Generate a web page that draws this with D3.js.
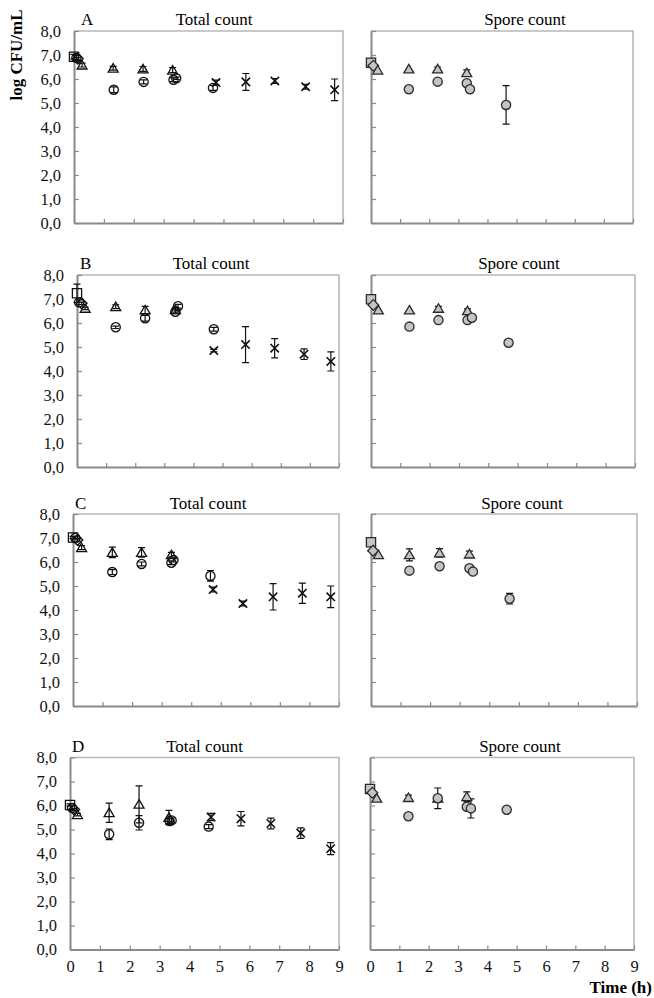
<!DOCTYPE html>
<html>
<head>
<meta charset="utf-8">
<script src="https://cdn.jsdelivr.net/npm/d3@7"></script>
<style>
  body { margin: 0; background: #fff; }
  svg { display: block; font-family: "Liberation Serif", "Times New Roman", serif; }
  .domain { stroke: #8a8a8a; stroke-width: 2; }
  .tick line { stroke: #8a8a8a; stroke-width: 1.2; }
  .tick text { fill: #111; }
</style>
</head>
<body>
<svg width="654" height="998"></svg>
<script>
// rows and panel titles
const rowLetters = ["A", "B", "C", "D"];
const panelTitles = ["Total count", "Spore count"];
const xTicks = [0, 1, 2, 3, 4, 5, 6, 7, 8, 9];
const yTicks = [0, 1, 2, 3, 4, 5, 6, 7, 8];

// [marker, time (h), log CFU/mL, error]
const totalA = [
  ["square", 0, 6.93, 0.1], ["circle", 0.08, 6.88, 0.1], ["diamond", 0.13, 6.85, 0.05],
  ["triangle", 0.27, 6.58, 0.08], ["triangle", 1.31, 6.45, 0.08], ["circle", 1.33, 5.55, 0.12],
  ["triangle", 2.31, 6.42, 0.1], ["circle", 2.33, 5.88, 0.08], ["triangle", 3.3, 6.37, 0.1],
  ["circle", 3.33, 5.97, 0.08], ["circle", 3.42, 6.03, 0.05], ["circle", 4.65, 5.63, 0.1],
  ["cross", 4.75, 5.85, 0.1], ["cross", 5.75, 5.88, 0.35], ["cross", 6.72, 5.92, 0.1],
  ["cross", 7.75, 5.68, 0.1], ["cross", 8.72, 5.55, 0.45]
];
const sporeA = [
  ["square", 0, 6.68, 0], ["diamond", 0.08, 6.55, 0], ["triangle", 0.23, 6.37, 0],
  ["triangle", 1.3, 6.42, 0], ["circle", 1.3, 5.57, 0], ["triangle", 2.29, 6.42, 0.08],
  ["circle", 2.29, 5.89, 0], ["triangle", 3.29, 6.26, 0.12], ["circle", 3.29, 5.82, 0],
  ["circle", 3.4, 5.57, 0], ["circle", 4.64, 4.92, 0.8]
];
const totalB = [
  ["square", 0, 7.24, 0.38], ["circle", 0.07, 6.86, 0.1], ["diamond", 0.16, 6.82, 0.05],
  ["triangle", 0.28, 6.61, 0.05], ["triangle", 1.33, 6.68, 0.08], ["circle", 1.33, 5.82, 0.05],
  ["triangle", 2.34, 6.54, 0.15], ["circle", 2.34, 6.2, 0.12], ["triangle", 3.38, 6.55, 0.1],
  ["circle", 3.38, 6.47, 0.08], ["circle", 3.47, 6.7, 0.08], ["circle", 4.7, 5.74, 0.08],
  ["cross", 4.7, 4.85, 0.05], ["cross", 5.79, 5.1, 0.75], ["cross", 6.79, 4.95, 0.4],
  ["cross", 7.8, 4.7, 0.22], ["cross", 8.72, 4.4, 0.4]
];
const sporeB = [
  ["square", 0, 6.99, 0], ["diamond", 0.08, 6.75, 0], ["triangle", 0.25, 6.54, 0],
  ["triangle", 1.31, 6.54, 0], ["circle", 1.31, 5.85, 0], ["triangle", 2.3, 6.61, 0.08],
  ["circle", 2.3, 6.12, 0.12], ["triangle", 3.29, 6.51, 0.08], ["circle", 3.29, 6.12, 0.12],
  ["circle", 3.44, 6.22, 0], ["circle", 4.69, 5.18, 0]
];
const totalC = [
  ["square", 0, 7.02, 0.05], ["circle", 0.08, 7.0, 0.05], ["diamond", 0.15, 6.92, 0.05],
  ["triangle", 0.29, 6.6, 0.08], ["triangle", 1.33, 6.4, 0.22], ["circle", 1.33, 5.58, 0.1],
  ["triangle", 2.32, 6.4, 0.2], ["circle", 2.32, 5.92, 0.08], ["triangle", 3.33, 6.3, 0.1],
  ["circle", 3.33, 5.97, 0.08], ["circle", 3.4, 6.08, 0.08], ["circle", 4.65, 5.42, 0.22],
  ["cross", 4.74, 4.85, 0.1], ["cross", 5.75, 4.27, 0.1], ["cross", 6.77, 4.55, 0.55],
  ["cross", 7.76, 4.7, 0.42], ["cross", 8.72, 4.55, 0.45]
];
const sporeC = [
  ["square", 0, 6.82, 0], ["diamond", 0.07, 6.47, 0], ["triangle", 0.25, 6.3, 0],
  ["triangle", 1.3, 6.3, 0.25], ["circle", 1.3, 5.64, 0], ["triangle", 2.32, 6.38, 0.18],
  ["circle", 2.32, 5.82, 0], ["triangle", 3.33, 6.33, 0.12], ["circle", 3.33, 5.74, 0],
  ["circle", 3.45, 5.6, 0], ["circle", 4.69, 4.47, 0.22]
];
const totalD = [
  ["square", 0, 6.02, 0.05], ["circle", 0.07, 5.9, 0.1], ["diamond", 0.14, 5.83, 0.05],
  ["triangle", 0.25, 5.62, 0.05], ["triangle", 1.31, 5.7, 0.4], ["circle", 1.31, 4.8, 0.22],
  ["triangle", 2.31, 6.05, 0.77], ["circle", 2.31, 5.28, 0.3], ["triangle", 3.31, 5.5, 0.3],
  ["circle", 3.33, 5.35, 0.1], ["circle", 3.4, 5.38, 0.1], ["circle", 4.64, 5.12, 0.08],
  ["cross", 4.72, 5.52, 0.15], ["cross", 5.72, 5.45, 0.3], ["cross", 6.72, 5.25, 0.22],
  ["cross", 7.72, 4.85, 0.22], ["cross", 8.72, 4.2, 0.25]
];
const sporeD = [
  ["square", 0, 6.69, 0], ["diamond", 0.08, 6.53, 0], ["triangle", 0.23, 6.3, 0],
  ["triangle", 1.31, 6.33, 0.1], ["circle", 1.31, 5.55, 0], ["triangle", 2.31, 6.3, 0],
  ["circle", 2.31, 6.3, 0.43], ["triangle", 3.3, 6.37, 0.2], ["circle", 3.3, 5.95, 0],
  ["circle", 3.44, 5.88, 0.4], ["circle", 4.66, 5.82, 0]
];

const totals = [totalA, totalB, totalC, totalD];
const spores = [sporeA, sporeB, sporeC, sporeD];

// layout of each row (the figure is stacked from four separate plots)
const layout = [
  { top: 31, bottom: 223, left: [74, 343], right: [371, 633], titleY: 25, letterX: 81, totalX: 214, sporeX: 525 },
  { top: 275, bottom: 467, left: [77, 339], right: [371, 635], titleY: 269, letterX: 80, totalX: 211, sporeX: 519 },
  { top: 514, bottom: 706, left: [73, 339], right: [371, 637], titleY: 509, letterX: 75, totalX: 208, sporeX: 522 },
  { top: 757.5, bottom: 949.5, left: [70, 339], right: [370, 634], titleY: 752, letterX: 72, totalX: 204.5, sporeX: 520 }
];

const serif = '"Liberation Serif", "Times New Roman", serif';
const svg = d3.select("svg");
const fmt = (d) => d3.format(".1f")(d).replace(".", ",");

// marker shapes around the point
function shape(type) {
  const r = 4.6;
  if (type === "square") return `M${-r},${-r}H${r}V${r}H${-r}Z`;
  if (type === "diamond") return `M0,${-r - 0.8}L${r + 0.8},0L0,${r + 0.8}L${-r - 0.8},0Z`;
  if (type === "triangle") return `M0,${-r}L${r + 0.4},${r * 0.85}L${-r - 0.4},${r * 0.85}Z`;
  if (type === "circle") return d3.arc()({ innerRadius: 0, outerRadius: r, startAngle: 0, endAngle: 2 * Math.PI });
  return `M${-r + 0.4},${-r + 0.4}L${r - 0.4},${r - 0.4}M${r - 0.4},${-r + 0.4}L${-r + 0.4},${r - 0.4}`;
}

function drawPanel(geo, range, data, spore, showXLabels, showYLabels) {
  const x = d3.scaleLinear().domain([0, 9]).range(range);
  const y = d3.scaleLinear().domain([0, 8]).range([geo.bottom, geo.top]);
  const g = svg.append("g");

  // light frame on top and right
  g.append("path")
    .attr("d", `M${x(0)},${y(8)}H${x(9)}V${y(0)}`)
    .attr("fill", "none")
    .attr("stroke", "#b8b8b8")
    .attr("stroke-width", 1.6);

  g.append("g")
    .attr("transform", `translate(0,${y(0)})`)
    .call(d3.axisBottom(x).tickValues(xTicks).tickSizeInner(-4).tickSizeOuter(0).tickPadding(11)
      .tickFormat(showXLabels ? d3.format("d") : () => ""))
    .attr("font-family", serif)
    .attr("font-size", 16.5);

  g.append("g")
    .attr("transform", `translate(${x(0)},0)`)
    .call(d3.axisLeft(y).tickValues(yTicks).tickSizeInner(-5).tickSizeOuter(0).tickPadding(13)
      .tickFormat(showYLabels ? fmt : () => ""))
    .attr("font-family", serif)
    .attr("font-size", 16.5);

  const bar = (sel) => {
    sel.append("path")
      .attr("d", (d) => {
        const cx = x(d[1]), y1 = y(d[2] + d[3]), y2 = y(d[2] - d[3]);
        return `M${cx},${y1}V${y2}M${cx - 3.5},${y1}H${cx + 3.5}M${cx - 3.5},${y2}H${cx + 3.5}`;
      })
      .attr("fill", "none")
      .attr("stroke", "#111")
      .attr("stroke-width", 1.2);
  };

  const withErr = data.filter((d) => d[3] > 0);
  if (spore) bar(g.append("g").selectAll("g").data(withErr).enter());

  g.append("g").selectAll("path")
    .data(data)
    .enter()
    .append("path")
    .attr("transform", (d) => `translate(${x(d[1])},${y(d[2])})`)
    .attr("d", (d) => shape(d[0]))
    .attr("fill", (d) => (spore && d[0] !== "cross" ? "#c4c4c4" : "none"))
    .attr("stroke", spore ? "#2a2a2a" : "#111")
    .attr("stroke-width", (d) => (d[0] === "cross" ? 1.6 : 1.3));

  if (!spore) bar(g.append("g").selectAll("g").data(withErr).enter());
}

layout.forEach((geo, i) => {
  const last = i === layout.length - 1;
  drawPanel(geo, geo.left, totals[i], false, last, true);
  drawPanel(geo, geo.right, spores[i], true, last, false);

  svg.append("text").attr("x", geo.letterX).attr("y", geo.titleY)
    .attr("font-size", 17).text(rowLetters[i]);
  svg.append("text").attr("x", geo.totalX).attr("y", geo.titleY)
    .attr("font-size", 17).attr("text-anchor", "middle").text(panelTitles[0]);
  svg.append("text").attr("x", geo.sporeX).attr("y", geo.titleY)
    .attr("font-size", 17).attr("text-anchor", "middle").text(panelTitles[1]);
});

// axis titles
svg.append("text")
  .attr("transform", "translate(22,55) rotate(-90)")
  .attr("text-anchor", "middle")
  .attr("font-size", 17)
  .attr("font-weight", "bold")
  .text("log CFU/mL");

svg.append("text")
  .attr("x", 652)
  .attr("y", 993)
  .attr("text-anchor", "end")
  .attr("font-size", 17)
  .attr("font-weight", "bold")
  .text("Time (h)");
</script>
</body>
</html>
